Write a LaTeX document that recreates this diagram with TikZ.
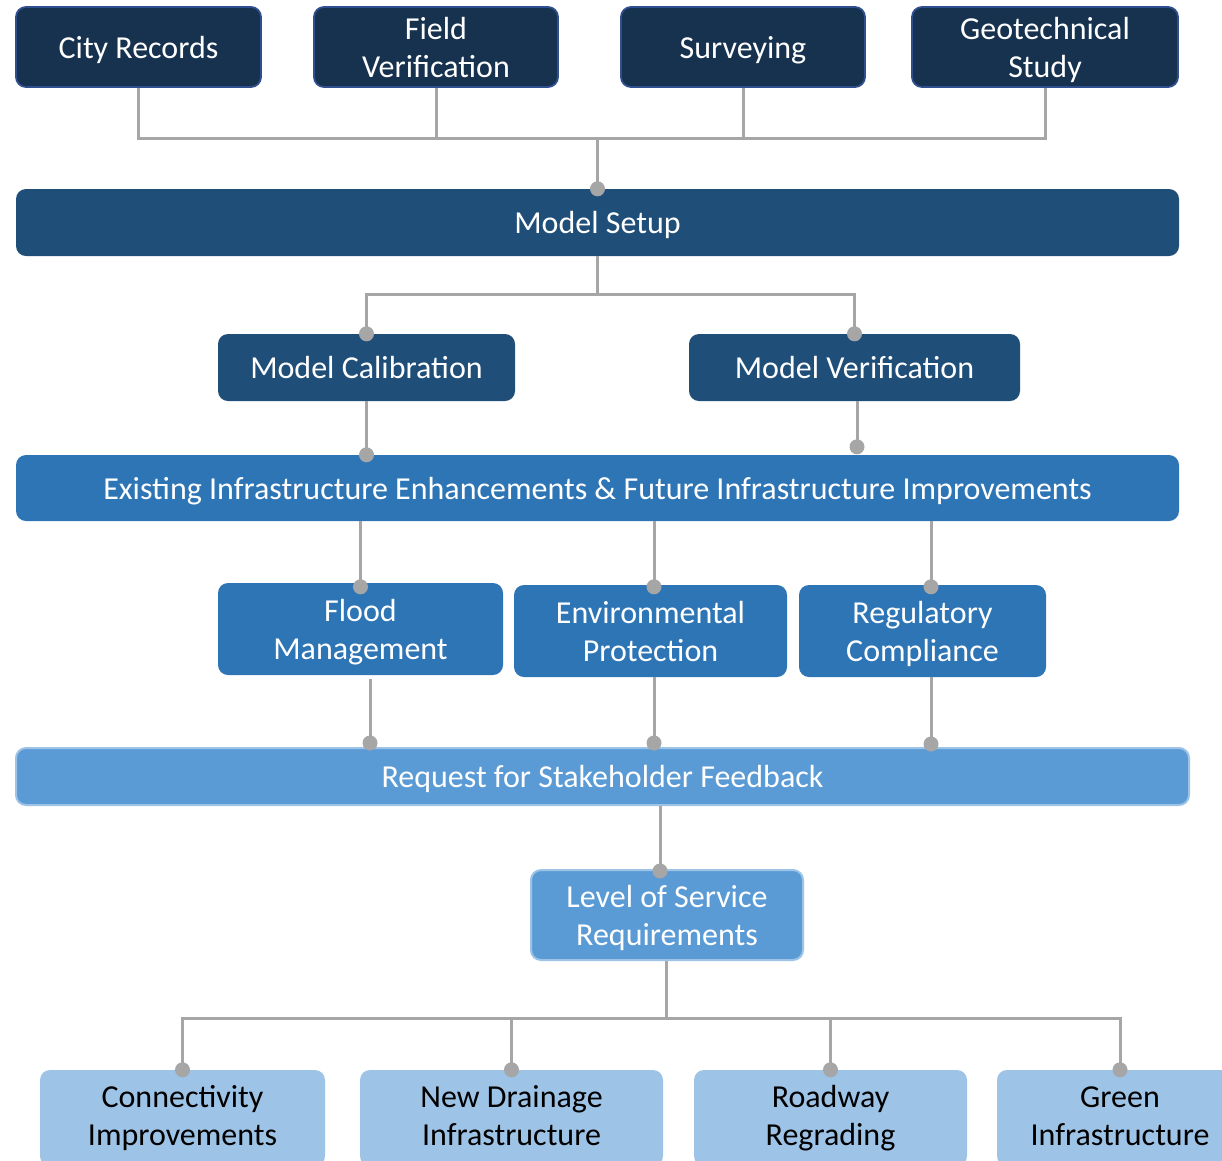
\documentclass[tikz,border=0pt]{standalone}
\usepackage{fontspec}
\setmainfont{Carlito}
\definecolor{navy}{HTML}{17324F}
\definecolor{navyedge}{HTML}{2F4F8F}
\definecolor{dblue}{HTML}{1F4E79}
\definecolor{mblue}{HTML}{2E75B6}
\definecolor{lblue}{HTML}{5B9BD5}
\definecolor{llblue}{HTML}{9DC3E6}
\definecolor{lbedge}{HTML}{9DC3E6}
\definecolor{conn}{HTML}{A6A6A6}
\newcommand{\fsz}{\fontsize{32}{38}\selectfont}
\newcommand{\tx}[2][-3.4pt]{\raisebox{#1}[\height][\depth]{\begin{tabular}{@{}c@{}}#2\end{tabular}}}
\tikzset{
  basebox/.style={rounded corners=10pt, inner sep=0pt, font=\fsz, text=white},
  topbox/.style={basebox, fill=navy, draw=navyedge, line width=1.8pt},
  setupbox/.style={basebox, fill=dblue},
  midbox/.style={basebox, fill=mblue},
  reqbox/.style={basebox, fill=lblue, draw=lbedge, line width=2pt},
  lowbox/.style={basebox, fill=llblue, text=black},
  wire/.style={draw=conn, line width=3pt},
  dot/.style={circle, fill=conn, inner sep=0pt, minimum size=15pt},
}
\begin{document}
\begin{tikzpicture}[x=1pt,y=-1pt]
\useasboundingbox (0,0) rectangle (1222,1160);
\clip (0,0) rectangle (1222,1160);
% top row
\node[topbox, minimum width=245pt, minimum height=80pt] (cr) at (138.5,47) {\tx{City Records}};
\node[topbox, minimum width=244pt, minimum height=80pt] (fv) at (436,47) {\tx{Field\\Verification}};
\node[topbox, minimum width=244pt, minimum height=80pt] (sv) at (743,47) {\tx{Surveying}};
\node[topbox, minimum width=266pt, minimum height=80pt] (gs) at (1045,47) {\tx{Geotechnical\\Study}};
% model setup
\node[setupbox, minimum width=1163pt, minimum height=67pt] (ms) at (597.5,222.5) {\tx[-3.5pt]{Model Setup}};
\coordinate (j1) at (597.5,138);
\draw[wire] (cr.south) |- (j1);
\draw[wire] (gs.south) |- (j1);
\draw[wire] (fv.south) -- (fv.south |- j1);
\draw[wire] (sv.south) -- (sv.south |- j1);
\draw[wire] (j1) -- (ms.north);
\node[dot] (d1) at (ms.north) {};
% calibration / verification
\node[setupbox, minimum width=297pt, minimum height=67pt] (mc) at (366.5,367.5) {\tx[-3.5pt]{Model Calibration}};
\node[setupbox, minimum width=331pt, minimum height=67pt] (mv) at (854.5,367.5) {\tx[-3.5pt]{Model Verification}};
\coordinate (j2) at (597.5,294);
\draw[wire] (ms.south) -- (j2);
\draw[wire] (j2) -| (mc.north);
\draw[wire] (j2) -| (mv.north);
\node[dot] at (mc.north) {};
\node[dot] at (mv.north) {};
% existing
\node[midbox, minimum width=1163pt, minimum height=66pt] (ex) at (597.5,488) {\tx[-3.5pt]{Existing Infrastructure Enhancements \& Future Infrastructure Improvements}};
\draw[wire] (mc.south) -- (mc.south |- ex.north);
\node[dot] at (mc.south |- ex.north) {};
\coordinate (vdot) at ([xshift=2.5pt,yshift=8pt]mv.south |- ex.north);
\draw[wire] ([xshift=2.5pt]mv.south) -- (vdot);
\node[dot] at (vdot) {};
% three mid boxes
\node[midbox, minimum width=285pt, minimum height=92pt] (fm) at (360.5,629) {\tx{Flood\\Management}};
\node[midbox, minimum width=273pt, minimum height=92pt] (ep) at (650.5,631) {\tx{Environmental\\Protection}};
\node[midbox, minimum width=247pt, minimum height=92pt] (rc) at (922.5,631) {\tx{Regulatory\\Compliance}};
\draw[wire] (fm.north |- ex.south) -- (fm.north);
\node[dot] at ([yshift=-4pt]fm.north) {};
\draw[wire] ([xshift=3.5pt]ep.north |- ex.south) -- ([xshift=3.5pt]ep.north);
\node[dot] at ([xshift=3.5pt,yshift=-2pt]ep.north) {};
\draw[wire] ([xshift=8.5pt]rc.north |- ex.south) -- ([xshift=8.5pt]rc.north);
\node[dot] at ([xshift=8.5pt,yshift=-2pt]rc.north) {};
% request
\node[reqbox, minimum width=1173pt, minimum height=57pt] (rq) at (602.5,776.5) {\tx[-3.5pt]{Request for Stakeholder Feedback}};
\coordinate (fmb) at ([xshift=9.5pt,yshift=-4pt]fm.south);
\draw[wire] (fmb) -- (fmb |- rq.north);
\node[dot] at ([yshift=4pt]fmb |- rq.north) {};
\coordinate (epb) at ([xshift=3.5pt]ep.south);
\draw[wire] (epb) -- (epb |- rq.north);
\node[dot] at ([yshift=4pt]epb |- rq.north) {};
\coordinate (rcb) at ([xshift=8.5pt]rc.south);
\draw[wire] (rcb) -- (rcb |- rq.north);
\node[dot] at ([yshift=3pt]rcb |- rq.north) {};
% level of service
\node[reqbox, minimum width=272pt, minimum height=90pt] (ls) at (667,915) {\tx{Level of Service\\Requirements}};
\coordinate (lst) at ([xshift=-7pt]ls.north);
\draw[wire] (lst |- rq.south) -- (lst);
\node[dot] at ([yshift=-2pt]lst) {};
% bottom
\node[lowbox, minimum width=285pt, minimum height=96pt] (ci) at (182.5,1118) {\tx[-0.4pt]{Connectivity\\Improvements}};
\node[lowbox, minimum width=303pt, minimum height=96pt] (nd) at (511.5,1118) {\tx[-0.4pt]{New Drainage\\Infrastructure}};
\node[lowbox, minimum width=273pt, minimum height=96pt] (rr) at (830.5,1118) {\tx[-0.4pt]{Roadway\\Regrading}};
\node[lowbox, minimum width=246pt, minimum height=96pt] (gi) at (1120,1118) {\tx[-0.4pt]{Green\\Infrastructure}};
\path (ls.south) ++(0,57) coordinate (j3);
\draw[wire] ([xshift=-1pt]ls.south) -- ([xshift=-1pt]j3);
\draw[wire] (j3) -| (ci.north);
\draw[wire] (j3) -| (gi.north);
\draw[wire] (nd.north |- j3) -- (nd.north);
\draw[wire] (rr.north |- j3) -- (rr.north);
\foreach \n in {ci,nd,rr,gi} \node[dot] at (\n.north) {};
\end{tikzpicture}
\end{document}
